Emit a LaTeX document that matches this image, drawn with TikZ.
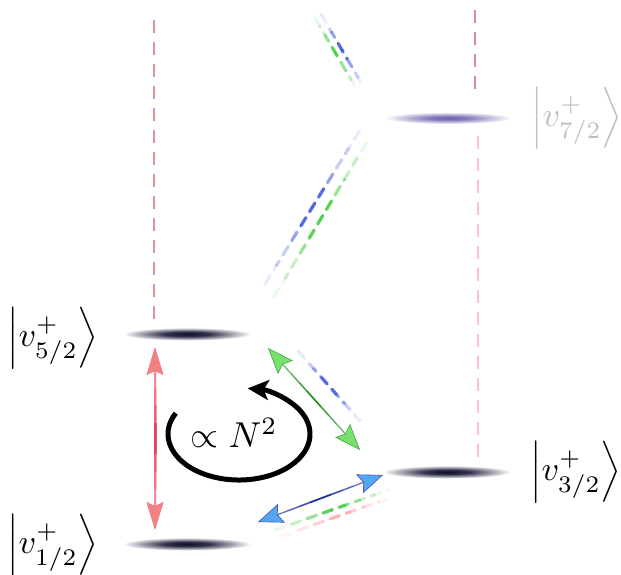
\documentclass[tikz,border=0pt]{standalone}
\usepackage{amsmath}
\usepackage{graphicx}
\usetikzlibrary{arrows.meta,calc,shapes.geometric}
\definecolor{levelc}{RGB}{15,15,45}
\definecolor{levelp}{RGB}{105,90,170}
\definecolor{pinkdash}{RGB}{222,150,155}
\definecolor{pinklight}{RGB}{255,192,202}
\definecolor{redhead}{RGB}{240,130,130}
\definecolor{redshaft}{RGB}{235,55,85}
\definecolor{greenhead}{RGB}{120,225,110}
\definecolor{greenshaft}{RGB}{20,140,20}
\definecolor{bluehead}{RGB}{85,165,240}
\definecolor{blueshaft}{RGB}{25,40,160}
\definecolor{bluedash}{RGB}{70,90,220}
\definecolor{greendash}{RGB}{70,205,70}
\definecolor{pinkdashB}{RGB}{255,170,175}
\pgfdeclareradialshading{lvlshade}{\pgfpoint{0bp}{0bp}}{color(0bp)=(levelc); color(9bp)=(levelc!85!white); color(25bp)=(white); color(50bp)=(white)}
\pgfdeclareradialshading{lvlshadep}{\pgfpoint{0bp}{0bp}}{color(0bp)=(levelp); color(9bp)=(levelp!75!white); color(25bp)=(white); color(50bp)=(white)}
\newcommand\fadeseg[3]{%
  \path let \p1=($(#3)-(#2)$), \n1={veclen(\x1,\y1)} in \pgfextra{\xdef\seglen{\n1}};
  \foreach \a/\b/\o in {0/.12/.12,.12/.25/.3,.25/.38/.55,.38/.5/.9,.5/.62/.9,.62/.75/.55,.75/.88/.3,.88/1/.12}
    {\pgfmathsetmacro\ph{\a*\seglen}
     \draw[#1,opacity=\o,dash phase=\ph pt] ($(#2)!\a!(#3)$) -- ($(#2)!\b!(#3)$);}}
\newcommand\ketlab[1]{\scalebox{3.4}{$\Bigl|v^{+}_{#1}\Bigr\rangle$}}
\tikzset{
  lvl/.style={ellipse,inner sep=0pt,minimum width=128pt,minimum height=13pt,shade,shading=lvlshade},
  lvlp/.style={ellipse,inner sep=0pt,minimum width=128pt,minimum height=12pt,shade,shading=lvlshadep},
  ket/.style={inner sep=0pt},
  vdash/.style={line width=2pt,dash pattern=on 13pt off 9pt},
  ddash/.style={line width=3.2pt,dash pattern=on 10pt off 7pt,line cap=round},
  redarr/.style={line width=1.2pt,draw=redshaft!55,
    {Stealth[length=28pt,width=17pt,inset=4pt,fill=redhead,color=redshaft!70,line width=0.6pt]}-{Stealth[length=28pt,width=17pt,inset=4pt,fill=redhead,color=redshaft!70,line width=0.6pt]}},
  greenarr/.style={line width=1.2pt,draw=greenshaft!60,
    {Stealth[length=26pt,width=20pt,inset=4pt,fill=greenhead,color=greenshaft!80,line width=0.6pt]}-{Stealth[length=26pt,width=20pt,inset=4pt,fill=greenhead,color=greenshaft!80,line width=0.6pt]}},
  bluearr/.style={line width=1.2pt,draw=blueshaft!60,
    {Stealth[length=25pt,width=20pt,inset=4pt,fill=bluehead,color=blueshaft!80,line width=0.6pt]}-{Stealth[length=25pt,width=20pt,inset=4pt,fill=bluehead,color=blueshaft!80,line width=0.6pt]}},
}
\begin{document}
\begin{tikzpicture}[x=1pt,y=-1pt]
\useasboundingbox (0,0) rectangle (621,574);
% levels
\node[lvl] (l52) at (187,334) {};
\node[lvl] (l12) at (187,544) {};
\node[lvl] (l32) at (447,472) {};
\node[lvlp] (l72) at (448,118) {};
% labels
\node[ket] (k52) at (53,338) {\ketlab{5/2}};
\node[ket] (k12) at (53,545) {\ketlab{1/2}};
\node[ket] (k32) at (576,472) {\ketlab{3/2}};
\node[ket,text=black!25] (k72) at (577,118) {\ketlab{7/2}};
% vertical dashed lines
\coordinate (t52) at (154,20);
\coordinate (t72) at (475,10);
\coordinate (b72) at (475,92);
\coordinate (s72) at (478,136);
\coordinate (s32) at (478,462);
\draw[vdash,pinkdash] (t52) -- (l52.north -| t52);
\draw[vdash,pinkdash!95!black] (t72) -- (b72);
\draw[vdash,pinklight,line width=2.5pt] (s72) -- (s32);
% red arrow
\coordinate (rA) at (155,347);
\coordinate (rB) at (155,530);
\draw[redarr] (rA) -- (rB);
\coordinate (rA2) at (155,372);
\coordinate (rB2) at (155,505);
\fadeseg{line width=3pt,redshaft}{rA2}{rB2}
% green arrow
\coordinate (gA) at (268,348);
\coordinate (gB) at (360,450);
\draw[greenarr] (gA) -- (gB);
\coordinate (gA2) at ($(gA)!0.18!(gB)$);
\coordinate (gB2) at ($(gA)!0.82!(gB)$);
\fadeseg{line width=1.6pt,greenshaft}{gA2}{gB2}
% blue arrow
\coordinate (bA) at (258,522);
\coordinate (bB) at (383,475);
\draw[bluearr] (bA) -- (bB);
\coordinate (bA2) at ($(bA)!0.15!(bB)$);
\coordinate (bB2) at ($(bA)!0.85!(bB)$);
\fadeseg{line width=1.8pt,blueshaft}{bA2}{bB2}
% dashed companions
\coordinate (d1a) at (298,351);
\coordinate (d1b) at (360,421);
\fadeseg{ddash,bluedash}{d1a}{d1b}
\coordinate (d2a) at (275,530);
\coordinate (d2b) at (388,490);
\fadeseg{ddash,greendash}{d2a}{d2b}
\coordinate (d3a) at (282,536);
\coordinate (d3b) at (392,497);
\fadeseg{ddash,pinkdashB}{d3a}{d3b}
% upper dashed pairs
\coordinate (u1a) at (315,18);
\coordinate (u1b) at (356,88);
\fadeseg{ddash,greendash}{u1a}{u1b}
\coordinate (u2a) at (321,14);
\coordinate (u2b) at (363,86);
\fadeseg{ddash,bluedash}{u2a}{u2b}
\coordinate (m1a) at (265,284);
\coordinate (m1b) at (360,130);
\fadeseg{ddash,bluedash}{m1a}{m1b}
\coordinate (m2a) at (274,297);
\coordinate (m2b) at (368,140);
\fadeseg{ddash,greendash}{m2a}{m2b}
% loop
\coordinate (cN) at (239,434);
\draw[line width=5pt,-{Stealth[length=21pt,width=20pt,inset=5pt]}] (cN) ++(207:71 and 46) arc[start angle=207,end angle=-83,x radius=71,y radius=46];
\node[inner sep=0pt] (prop) at (234,433) {\scalebox{3.6}{$\propto N^2$}};
\end{tikzpicture}
\end{document}
